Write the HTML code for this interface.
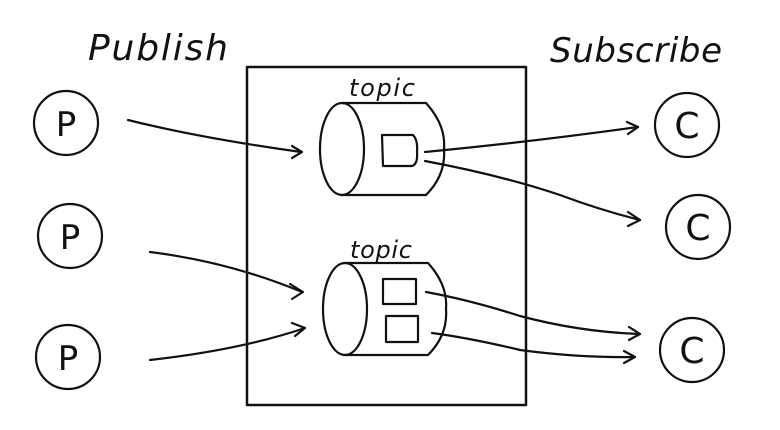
<!DOCTYPE html>
<html><head><style>body{margin:0;background:#fff}</style></head><body>
<svg width="780" height="425" viewBox="0 0 780 425" xmlns="http://www.w3.org/2000/svg" fill="none" stroke="#111" stroke-width="2.2" stroke-linecap="round" stroke-linejoin="round">
<rect x="247" y="67" width="279" height="338" stroke-width="2.5"/>
<g font-family="'DejaVu Sans','Liberation Sans',sans-serif" fill="#111" stroke="none">
<text x="88" y="60" font-size="36" font-style="italic" textLength="140">Publish</text>
<text x="550" y="62" font-size="34" font-style="italic" textLength="172">Subscribe</text>
<text x="349" y="96" font-size="24" font-style="italic" textLength="66">topic</text>
<text x="350" y="258" font-size="24" font-style="italic" textLength="62">topic</text>
<text x="66" y="136" font-size="34" text-anchor="middle">P</text>
<text x="70" y="249" font-size="34" text-anchor="middle">P</text>
<text x="68" y="370" font-size="34" text-anchor="middle">P</text>
<text x="687" y="138" font-size="36" text-anchor="middle">C</text>
<text x="698" y="240" font-size="36" text-anchor="middle">C</text>
<text x="692" y="363" font-size="36" text-anchor="middle">C</text>
</g>
<circle cx="66" cy="123" r="32"/><circle cx="70" cy="236" r="32"/><circle cx="68" cy="357" r="32"/>
<circle cx="687" cy="125" r="32"/><circle cx="698" cy="227" r="32"/><circle cx="692" cy="350" r="32"/>
<!-- cylinder 1 -->
<ellipse cx="342" cy="149" rx="22" ry="46"/>
<path d="M342 103 H426 Q446 125 444 149 Q446 175 426 195 H342"/>
<path d="M382 135 H413 Q418 140 417 152 Q418 164 412 166 H383 Z"/>
<!-- cylinder 2 -->
<ellipse cx="345" cy="309" rx="22" ry="46"/>
<path d="M345 263 H428 Q448 285 446 309 Q448 335 428 355 H345"/>
<rect x="383" y="279" width="33" height="25"/>
<rect x="386" y="316" width="32" height="26"/>
<!-- arrows -->
<path d="M128 120 Q200 138 301 152"/><path d="M292 146 L302 152 L292 158"/>
<path d="M150 252 Q230 262 302 292"/><path d="M290 284 L303 292 L292 299"/>
<path d="M150 360 Q240 350 305 328"/><path d="M292 323 L305 328 L295 336"/>
<path d="M425 152 Q530 142 638 127"/><path d="M627 122 L638 127 L628 134"/>
<path d="M425 161 Q500 175 560 195 Q600 210 640 220"/><path d="M628 212 L640 220 L628 226"/>
<path d="M426 292 Q470 300 520 316 Q580 332 640 334"/><path d="M629 327 L640 334 L629 340"/>
<path d="M432 333 Q470 338 520 350 Q580 358 635 357"/><path d="M624 351 L635 357 L624 363"/>
</svg>
</body></html>
